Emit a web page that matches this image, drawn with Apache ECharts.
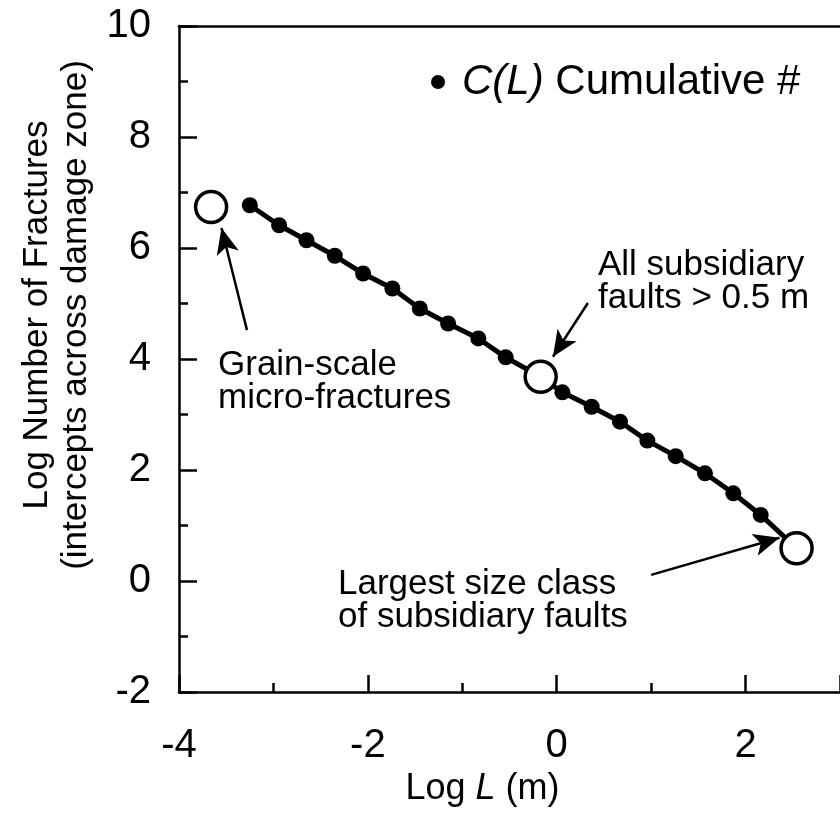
<!DOCTYPE html>
<html>
<head>
<meta charset="utf-8">
<script src="https://cdn.jsdelivr.net/npm/echarts@6/dist/echarts.min.js"></script>
<style>html,body{margin:0;padding:0;background:#fff;}#c{width:840px;height:813px;}</style>
</head>
<body>
<div id="c"></div>
<script>
// Cumulative count C(L): filled dots
const dotLogL = [-3.25, -2.94, -2.65, -2.35, -2.05, -1.74, -1.45, -1.15, -0.83, -0.54, 0.06, 0.37, 0.67, 0.96, 1.26, 1.57, 1.87, 2.16];
const dotLogN = [6.77, 6.41, 6.14, 5.86, 5.54, 5.27, 4.91, 4.64, 4.37, 4.03, 3.40, 3.14, 2.87, 2.53, 2.25, 1.94, 1.58, 1.19];
// Highlighted (open) points
const openLogL = [-3.66, -0.17, 2.54];
const openLogN = [6.74, 3.68, 0.59];
// Axis ticks
const xTicks = [-4, -2, 0, 2];
const yTicks = [-2, 0, 2, 4, 6, 8, 10];
// Annotation arrows [tailL, tailN, headL, headN]
const arrowGrain = [-3.28, 4.52, -3.55, 6.36];
const arrowAll = [0.33, 5.01, -0.04, 4.04];
const arrowLargest = [1.00, 0.11, 2.36, 0.78];

const dots = dotLogL.map((x, i) => [x, dotLogN[i]]);
const opens = openLogL.map((x, i) => [x, openLogN[i]]);
const linePts = dots.concat([opens[1], opens[2]]).sort((a, b) => a[0] - b[0]);

const F = "'Liberation Sans', Arial, Helvetica, sans-serif";
const arrow = a => [{coord: [a[0], a[1]]}, {coord: [a[2], a[3]]}];

const chart = echarts.init(document.getElementById('c'), null, {renderer: 'canvas'});
const axisCommon = {
  axisLine: {show: true, onZero: false, lineStyle: {color: '#000', width: 2.5}},
  splitLine: {show: false},
};
chart.setOption({
  animation: false,
  backgroundColor: '#fff',
  grid: {left: 179, top: 26, right: -4, bottom: 121, containLabel: false},
  legend: {
    data: ['C(L) Cumulative #'],
    left: 426, top: 56,
    icon: 'circle', itemWidth: 14, itemHeight: 14, itemGap: 6,
    formatter: () => '{p|}{i|C(L)} Cumulative #',
    textStyle: {fontFamily: F, fontSize: 42, color: '#000',
      rich: {p: {width: 12}, i: {fontStyle: 'italic', fontFamily: F, fontSize: 42, color: '#000'}}}
  },
  xAxis: [{
    type: 'value', min: -4, max: 3, interval: 2, position: 'bottom',
    ...axisCommon,
    axisTick: {show: true, inside: true, length: 17, lineStyle: {color: '#000', width: 2.5}},
    minorTick: {show: true, splitNumber: 2, length: 9, lineStyle: {color: '#000', width: 2.5}},
    axisLabel: {show: true, showMaxLabel: false, margin: 34, fontFamily: F, fontSize: 40, color: '#000',
      formatter: v => xTicks.includes(v) ? String(v) : ''},
    name: 'Log {i|L} (m)', nameLocation: 'middle', nameGap: 76,
    nameTextStyle: {fontFamily: F, fontSize: 36, color: '#000', padding: [0, 54, 0, 0],
      rich: {i: {fontStyle: 'italic', fontFamily: F, fontSize: 36, color: '#000'}}}
  }, {
    type: 'value', min: -4, max: 3, position: 'top',
    ...axisCommon,
    axisTick: {show: false}, axisLabel: {show: false}
  }],
  yAxis: {
    type: 'value', min: -2, max: 10, interval: 2,
    ...axisCommon,
    axisTick: {show: true, inside: true, length: 18, lineStyle: {color: '#000', width: 2.5}},
    minorTick: {show: true, splitNumber: 2, length: 9, lineStyle: {color: '#000', width: 2.5}},
    axisLabel: {margin: 28, fontFamily: F, fontSize: 40, color: '#000',
      formatter: v => yTicks.includes(v) ? String(v) : ''},
    name: 'Log Number of Fractures\n(intercepts across damage zone)',
    nameLocation: 'middle', nameGap: 82, nameRotate: 90,
    nameTextStyle: {fontFamily: F, fontSize: 35, lineHeight: 39, color: '#000', padding: [0, 0, 0, 88]}
  },
  series: [
    {
      name: 'trend', type: 'line', data: linePts, showSymbol: false, symbol: 'none',
      lineStyle: {color: '#000', width: 5}, z: 2, silent: true,
      markLine: {
        silent: true, symbol: ['none', 'arrow'], symbolSize: [17, 26],
        label: {show: false},
        lineStyle: {color: '#000', width: 2.5, type: 'solid'},
        data: [arrow(arrowGrain), arrow(arrowAll), arrow(arrowLargest)]
      }
    },
    {
      name: 'C(L) Cumulative #', type: 'scatter', data: dots, symbol: 'circle', symbolSize: 16,
      itemStyle: {color: '#000', opacity: 1}, z: 3
    },
    {
      name: 'open', type: 'scatter', data: opens, symbol: 'circle', symbolSize: 31,
      itemStyle: {color: '#fff', borderColor: '#000', borderWidth: 3.5, opacity: 1}, z: 4
    }
  ],
  graphic: [
    {type: 'text', left: 218, top: 348, style: {text: 'Grain-scale\nmicro-fractures', font: '35px ' + F, lineHeight: 33, fill: '#000'}},
    {type: 'text', left: 598, top: 248, style: {text: 'All subsidiary\nfaults > 0.5 m', font: '35px ' + F, lineHeight: 33, fill: '#000'}},
    {type: 'text', left: 338, top: 567, style: {text: 'Largest size class\nof subsidiary faults', font: '35px ' + F, lineHeight: 33, fill: '#000'}}
  ]
});
</script>
</body>
</html>
